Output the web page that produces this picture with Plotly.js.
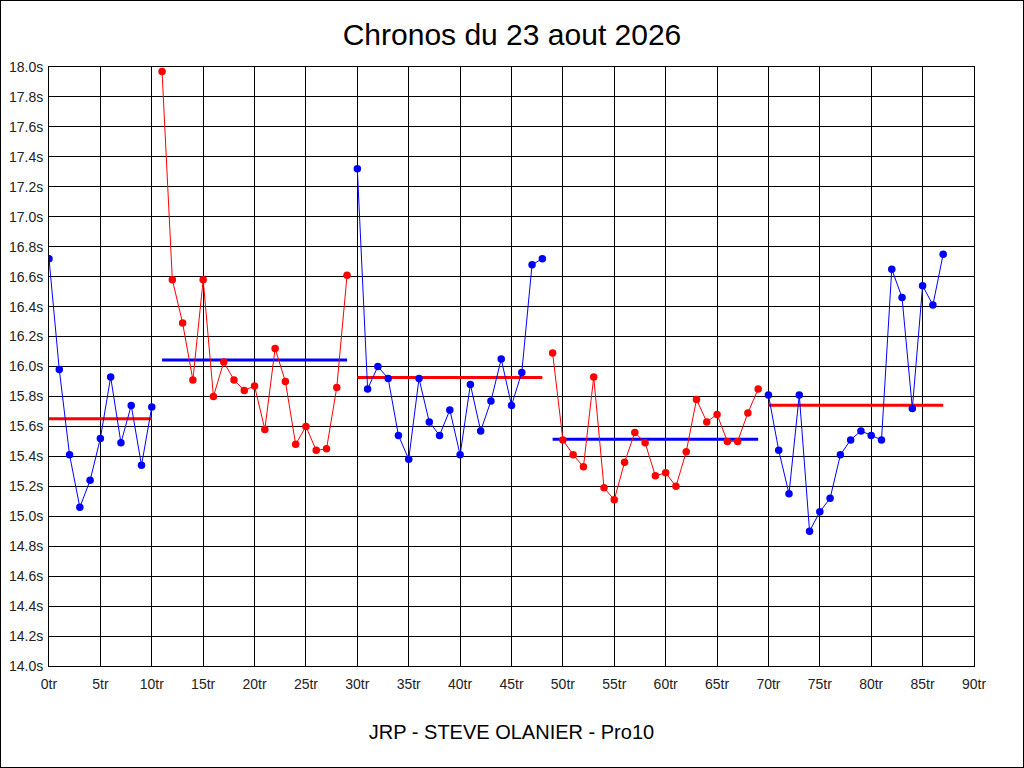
<!DOCTYPE html>
<html>
<head>
<meta charset="utf-8">
<script src="https://cdn.plot.ly/plotly-3.0.1.min.js"></script>
<style>
    html, body { margin: 0; padding: 0; background: #fff; }
    #chart { width: 1022px; height: 766px; border: 1px solid #000; }
</style>
</head>
<body>
<div id="chart"></div>
<script>
// lap times (seconds), lap number = index
const chronos = [
    16.72, 15.98, 15.41, 15.06, 15.24, 15.52, 15.93, 15.49, 15.74, 15.34, 15.73,
    17.97, 16.58, 16.29, 15.91, 16.58, 15.80, 16.03, 15.91, 15.84, 15.87,
    15.58, 16.12, 15.90, 15.48, 15.60, 15.44, 15.45, 15.86, 16.61,
    17.32, 15.85, 16.00, 15.92, 15.54, 15.38, 15.92, 15.63, 15.54, 15.71,
    15.41, 15.88, 15.57, 15.77, 16.05, 15.74, 15.96, 16.68, 16.72,
    16.09, 15.51, 15.41, 15.33, 15.93, 15.19, 15.11, 15.36, 15.56, 15.49, 15.27,
    15.29, 15.20, 15.43, 15.78, 15.63, 15.68, 15.50, 15.50, 15.69, 15.85,
    15.81, 15.44, 15.15, 15.81, 14.90, 15.03, 15.12, 15.41, 15.51, 15.57,
    15.54, 15.51, 16.65, 16.46, 15.72, 16.54, 16.41, 16.75
];
// first lap of each session, last entry = end
const sessionStarts = [0, 11, 30, 49, 70, 88];
const sessionColors = ['#0000ff', '#ff0000', '#0000ff', '#ff0000', '#0000ff'];
const meanColors = ['#ff0000', '#0000ff', '#ff0000', '#0000ff', '#ff0000'];

const xTicks = [0, 5, 10, 15, 20, 25, 30, 35, 40, 45, 50, 55, 60, 65, 70, 75, 80, 85, 90];
const xTickText = xTicks.map(v => v + 'tr');

const FONT = 'Liberation Sans, Arial, sans-serif';

const meanTraces = [];
const lapTraces = [];

for (let i = 0; i < sessionStarts.length - 1; i++) {
    const xs = [];
    const ys = [];
    for (let k = sessionStarts[i]; k < sessionStarts[i + 1]; k++) {
        xs.push(k);
        ys.push(chronos[k]);
    }
    const mean = ys.reduce((a, b) => a + b, 0) / ys.length;

    meanTraces.push({
        x: [xs[0], xs[xs.length - 1]],
        y: [mean, mean],
        mode: 'lines',
        line: { color: meanColors[i], width: 3 },
        hoverinfo: 'skip'
    });

    lapTraces.push({
        x: xs,
        y: ys,
        mode: 'lines+markers',
        line: { color: sessionColors[i], width: 1 },
        marker: { color: sessionColors[i], size: 7.5 }
    });
}

const axisFont = { family: FONT, size: 14, color: '#222' };

const layout = {
    width: 1022,
    height: 766,
    margin: { l: 48, r: 49, t: 66, b: 101 },
    paper_bgcolor: '#fff',
    plot_bgcolor: '#fff',
    showlegend: false,
    title: {
        text: 'Chronos du 23 aout 2026',
        font: { family: FONT, size: 30, color: '#000' },
        x: 0.5,
        xanchor: 'center',
        yref: 'container',
        y: 1 - 33 / 766,
        yanchor: 'middle'
    },
    xaxis: {
        range: [0, 90],
        tickvals: xTicks,
        ticktext: xTickText,
        ticks: '',
        ticklabelstandoff: 5,
        tickfont: axisFont,
        showgrid: true,
        gridcolor: '#000',
        gridwidth: 1,
        showline: true,
        linecolor: '#000',
        linewidth: 1,
        mirror: true,
        zeroline: false,
        title: {
            text: 'JRP - STEVE OLANIER - Pro10',
            font: { family: FONT, size: 20, color: '#000' },
            standoff: 34
        }
    },
    yaxis: {
        range: [14, 18],
        dtick: 0.2,
        tick0: 14,
        tickformat: '.1f',
        ticksuffix: 's',
        ticks: '',
        ticklabelstandoff: 2,
        tickfont: axisFont,
        showgrid: true,
        gridcolor: '#000',
        gridwidth: 1,
        showline: true,
        linecolor: '#000',
        linewidth: 1,
        mirror: true,
        zeroline: false
    },
    yaxis2: {
        overlaying: 'y',
        side: 'right',
        range: [14, 18],
        dtick: 0.2,
        tick0: 14,
        tickformat: '.1f',
        ticksuffix: 's',
        ticks: '',
        ticklabelstandoff: 2,
        tickfont: axisFont,
        showgrid: false,
        zeroline: false,
        showline: false
    }
};

Plotly.newPlot('chart', meanTraces.concat(lapTraces), layout, { displayModeBar: false, staticPlot: true });
</script>
</body>
</html>
